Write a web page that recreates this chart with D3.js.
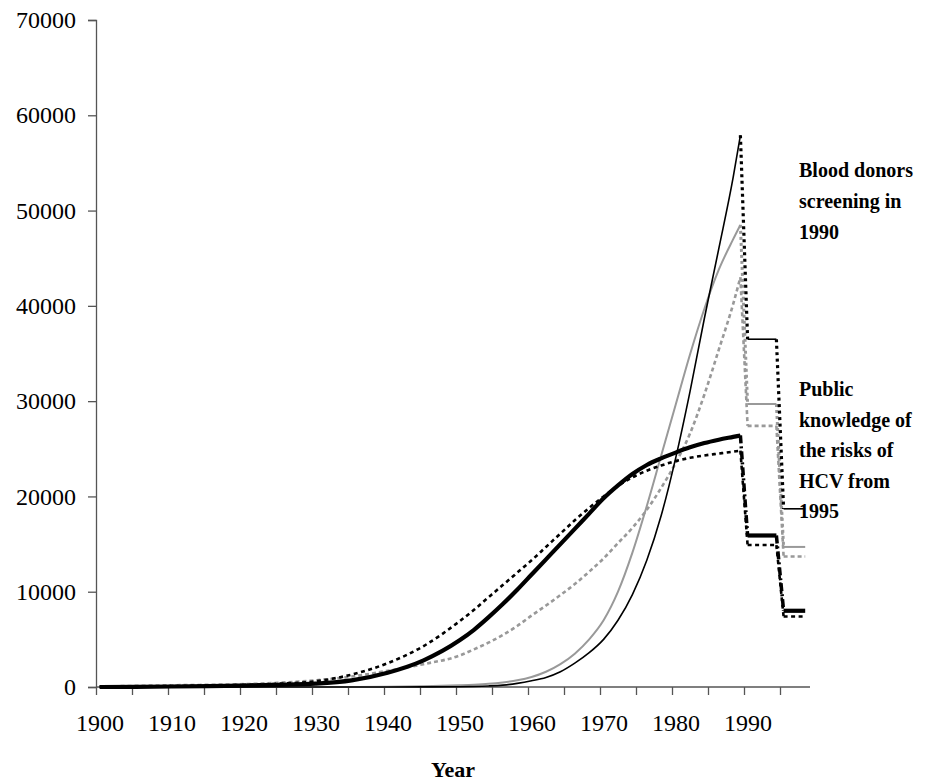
<!DOCTYPE html>
<html>
<head>
<meta charset="utf-8">
<script src="https://cdn.jsdelivr.net/npm/d3@7"></script>
<style>
  body { margin: 0; background: #fff; }
  text { font-family: "Liberation Serif", "Times New Roman", serif; }
</style>
</head>
<body>
<div id="chart"></div>
<script>
// sample years (curves 1900-1989)
var years = [1900,1905,1910,1915,1920,1925,1930,1935,1940,1945,
             1950,1952,1954,1956,1958,1960,1962,1964,1966,1968,
             1970,1972,1974,1976,1978,1980,1982,1984,1986,1988,1989];

var thinBlack   = [0,0,0,0,0,0,0,0,0,10,
                   30,60,110,200,380,650,1000,1600,2500,3600,
                   5000,7000,9700,13300,18000,24000,31000,38700,46000,53500,57900];
var graySolid   = [0,0,0,0,0,0,0,10,30,80,
                   180,240,330,480,700,1050,1600,2400,3500,5000,
                   7000,10000,14100,19000,24300,29600,34900,39700,43800,47000,48500];
var grayDashed  = [50,120,180,230,300,450,700,1100,1700,2400,
                   3300,3950,4650,5450,6400,7500,8550,9650,10800,12100,
                   13500,15100,16700,18600,20900,23500,26600,30700,35400,40200,43000];
var thickBlack  = [0,20,50,90,150,220,350,700,1500,2800,
                   4900,6000,7300,8700,10200,11800,13400,15000,16600,18200,
                   19800,21150,22350,23300,24000,24600,25150,25600,25950,26250,26400];
var blackDotted = [30,60,90,140,220,350,600,1300,2500,4300,
                   6900,8100,9400,10700,12000,13300,14700,16100,17500,18800,
                   20000,21100,22000,22700,23250,23700,24050,24300,24500,24700,24800];

// levels after the two interventions: [1990-1994, 1995-1998]
var stepYears = [1990, 1994, 1995, 1998];
var thinBlackSteps   = [36500, 18700];
var graySolidSteps   = [29700, 14700];
var grayDashedSteps  = [27400, 13700];
var thickBlackSteps  = [15900, 8000];
var blackDottedSteps = [14900, 7400];

var yTicks = [0,10000,20000,30000,40000,50000,60000,70000];
var yearLabels = [1900,1910,1920,1930,1940,1950,1960,1970,1980,1990];

var note1 = ["Blood donors", "screening in", "1990"];
var note2 = ["Public", "knowledge of", "the risks of", "HCV from", "1995"];

var W = 933, H = 783;
var svg = d3.select('#chart').append('svg').attr('width', W).attr('height', H);
svg.append('rect').attr('width', W).attr('height', H).attr('fill', '#fff');

var x = d3.scaleLinear().domain([1899.5, 1998.5]).range([96, 808.8]);
var y = d3.scaleLinear().domain([0, 70000]).range([687, 20]);

// axes
var yAxis = svg.append('g').attr('transform', 'translate(96,0)')
    .call(d3.axisLeft(y).tickValues(yTicks).tickSize(8).tickPadding(12).tickFormat(d3.format('d')));
yAxis.selectAll('text').attr('font-size', 24).attr('fill', '#000');

var tickPos = d3.range(0, 20).map(function(i){ return 1899.5 + 5*i; });
var xAxis = svg.append('g').attr('transform', 'translate(0,687)')
    .call(d3.axisBottom(x).tickValues(tickPos).tickSize(8).tickFormat(''));
xAxis.select('.domain').attr('d', 'M96,0H810');

var xLab = svg.append('g').attr('transform', 'translate(0,687)')
    .call(d3.axisBottom(x).tickValues(yearLabels).tickSize(0).tickPadding(27).tickFormat(d3.format('d')));
xLab.select('.domain').remove();
xLab.selectAll('text').attr('font-size', 24).attr('fill', '#000');

svg.selectAll('.domain, .tick line').attr('stroke', '#555').attr('stroke-width', 1.3);

svg.append('text').attr('x', 453).attr('y', 777).attr('text-anchor', 'middle')
    .attr('font-size', 22).attr('font-weight', 'bold').text('Year');

var line = d3.line().x(function(d){ return x(d[0]); }).y(function(d){ return y(d[1]); });
var smooth = d3.line().curve(d3.curveMonotoneX)
    .x(function(d){ return x(d[0]); }).y(function(d){ return y(d[1]); });

var series = [
  {vals: grayDashed,  steps: grayDashedSteps,  color: '#999', w: 2.6, dash: '4,3',  tw: 2.6, tdash: '4,3'},
  {vals: graySolid,   steps: graySolidSteps,   color: '#999', w: 2,   dash: null,   tw: 3,   tdash: '3,3'},
  {vals: blackDotted, steps: blackDottedSteps, color: '#000', w: 2.6, dash: '4,3.5', tw: 2.6, tdash: '4,3.5'},
  {vals: thickBlack,  steps: thickBlackSteps,  color: '#000', w: 4.2, dash: null,   tw: 3.5, tdash: '8,3,2,3'},
  {vals: thinBlack,   steps: thinBlackSteps,   color: '#000', w: 1.6, dash: null,   tw: 3.2, tdash: '3,3.5'}
];

series.forEach(function(s){
  var pts = years.map(function(yr, i){ return [yr, s.vals[i]]; });
  var last = s.vals[s.vals.length - 1];
  var stepPts = stepYears.map(function(yr, i){ return [yr, s.steps[i < 2 ? 0 : 1]]; });

  svg.append('path').attr('d', smooth(pts)).attr('fill', 'none')
      .attr('stroke', s.color).attr('stroke-width', s.w).attr('stroke-dasharray', s.dash);

  // drops at the interventions
  [[[1989, last], [1990, s.steps[0]]], [[1994, s.steps[0]], [1995, s.steps[1]]]].forEach(function(seg){
    svg.append('path').attr('d', line(seg)).attr('fill', 'none')
        .attr('stroke', s.color).attr('stroke-width', s.tw).attr('stroke-dasharray', s.tdash);
  });

  // flat levels
  [stepPts.slice(0, 2), stepPts.slice(2, 4)].forEach(function(seg){
    svg.append('path').attr('d', line(seg)).attr('fill', 'none')
        .attr('stroke', s.color).attr('stroke-width', s.w).attr('stroke-dasharray', s.dash);
  });
});

// annotations
svg.append('g').selectAll('text').data(note1).enter().append('text')
    .attr('x', 799).attr('y', function(d, i){ return 170 + 31*i; }).attr('dy', '0.35em')
    .attr('font-size', 20).attr('font-weight', 'bold').text(function(d){ return d; });

svg.append('g').selectAll('text').data(note2).enter().append('text')
    .attr('x', 799).attr('y', function(d, i){ return 389 + 30.5*i; }).attr('dy', '0.35em')
    .attr('font-size', 20).attr('font-weight', 'bold').text(function(d){ return d; });
</script>
</body>
</html>
